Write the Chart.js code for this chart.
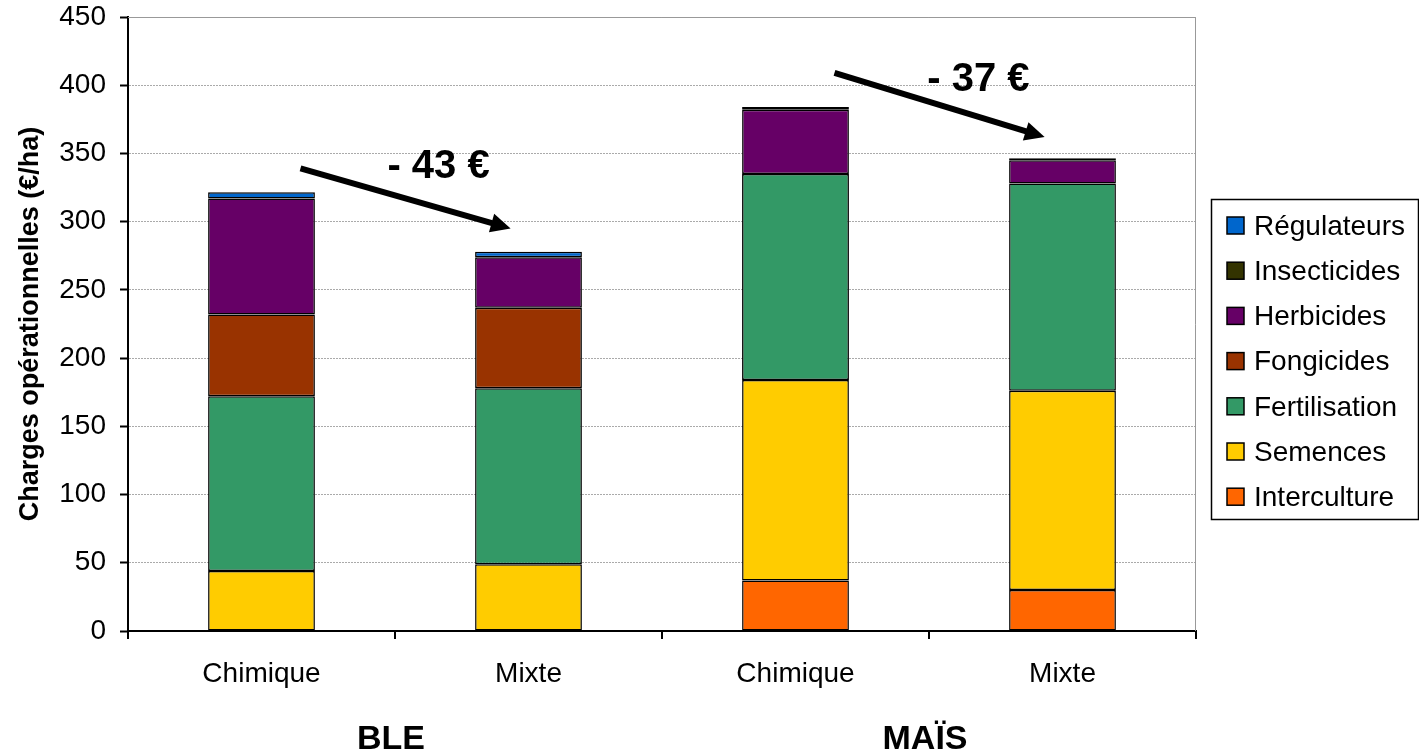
<!DOCTYPE html>
<html>
<head>
<meta charset="utf-8">
<script src="https://cdn.jsdelivr.net/npm/chart.js@4.4.1/dist/chart.umd.min.js"></script>
<style>
  body { margin: 0; background: #fff; }
  canvas { display: block; }
</style>
</head>
<body>
<canvas id="chart" width="1419" height="754"></canvas>
<script>
// categories
var bars = ['Chimique', 'Mixte', 'Chimique', 'Mixte'];
var groups = ['BLE', 'MAÏS'];

// series, from bottom of the stack to top
var interculture = [null, null, 37, 30];
var semences     = [44, 49, 147, 146];
var fertilisation= [128, 129, 151, 152];
var fongicides   = [60, 59, null, null];
var herbicides   = [85, 37, 47, 17];
var insecticides = [null, null, 2, 1.5];
var regulateurs  = [4.5, 4, null, null];

// arrows : [from bar, from value, to bar, to value, label, label x (bar index), label value]
var savings = [
	[0, 339, 1, 295, '- 43 €', 0.663, 340],
	[2, 409, 3, 362, '- 37 €', 2.685, 404]
];

var series = [
	{ label: 'Interculture', data: interculture, color: '#FF6600' },
	{ label: 'Semences', data: semences, color: '#FFCC00' },
	{ label: 'Fertilisation', data: fertilisation, color: '#339966' },
	{ label: 'Fongicides', data: fongicides, color: '#993300' },
	{ label: 'Herbicides', data: herbicides, color: '#660066' },
	{ label: 'Insecticides', data: insecticides, color: '#333300' },
	{ label: 'Régulateurs', data: regulateurs, color: '#0066CC' }
];

var font = 'Arial, "Liberation Sans", sans-serif';

var extras = {
	id: 'extras',
	afterDraw: function(chart) {
		var ctx = chart.ctx;
		var area = chart.chartArea;
		var x = chart.scales.x, y = chart.scales.y;
		ctx.save();

		// plot frame top / right
		ctx.strokeStyle = '#999';
		ctx.lineWidth = 1;
		ctx.beginPath();
		ctx.moveTo(area.left, area.top + 0.5);
		ctx.lineTo(area.right - 0.5, area.top + 0.5);
		ctx.lineTo(area.right - 0.5, area.bottom);
		ctx.stroke();

		// arrows
		var step = (x.getPixelForValue(1) - x.getPixelForValue(0));
		savings.forEach(function(s) {
			var x1 = x.getPixelForValue(s[0]) + step * 0.146;
			var y1 = y.getPixelForValue(s[1]);
			var x2 = x.getPixelForValue(s[2]) - step * 0.067;
			var y2 = y.getPixelForValue(s[3]);
			var ang = Math.atan2(y2 - y1, x2 - x1);
			var head = 22;
			ctx.strokeStyle = '#000';
			ctx.fillStyle = '#000';
			ctx.lineWidth = 6;
			ctx.beginPath();
			ctx.moveTo(x1, y1);
			ctx.lineTo(x2 - Math.cos(ang) * head * 0.8, y2 - Math.sin(ang) * head * 0.8);
			ctx.stroke();
			ctx.beginPath();
			ctx.moveTo(x2, y2);
			ctx.lineTo(x2 - head * Math.cos(ang - 0.45), y2 - head * Math.sin(ang - 0.45));
			ctx.lineTo(x2 - head * Math.cos(ang + 0.45), y2 - head * Math.sin(ang + 0.45));
			ctx.closePath();
			ctx.fill();
			ctx.font = 'bold 40px ' + font;
			ctx.textAlign = 'center';
			ctx.textBaseline = 'middle';
			ctx.fillText(s[4], x.getPixelForValue(s[5]), y.getPixelForValue(s[6]));
		});

		// group labels
		ctx.font = 'bold 34px ' + font;
		ctx.textAlign = 'center';
		ctx.textBaseline = 'middle';
		ctx.fillStyle = '#000';
		groups.forEach(function(g, i) {
			var cx = (x.getPixelForValue(i * 2) + x.getPixelForValue(i * 2 + 1)) / 2 - 4;
			ctx.fillText(g, cx, 740);
		});

		// legend
		var lx = 1211, ly = 199, lw = 207, lh = 320;
		ctx.strokeStyle = '#000';
		ctx.lineWidth = 1.5;
		ctx.strokeRect(lx + 0.5, ly + 0.5, lw, lh);
		ctx.font = '28px ' + font;
		ctx.textAlign = 'left';
		var items = series.slice().reverse();
		items.forEach(function(s, i) {
			var cy = ly + 27 + i * 45.2;
			ctx.fillStyle = s.color;
			ctx.fillRect(lx + 16, cy - 9, 17, 17);
			ctx.strokeStyle = '#000';
			ctx.lineWidth = 1.5;
			ctx.strokeRect(lx + 16, cy - 9, 17, 17);
			ctx.fillStyle = '#000';
			ctx.fillText(s.label, lx + 43, cy + 1);
		});
		ctx.restore();
	}
};

new Chart(document.getElementById('chart'), {
	type: 'bar',
	data: {
		labels: bars,
		datasets: series.map(function(s) {
			return {
				label: s.label,
				data: s.data,
				backgroundColor: s.color,
				borderColor: '#000',
				borderWidth: 1.5,
				borderSkipped: false,
				barPercentage: 0.4,
				categoryPercentage: 1
			};
		})
	},
	options: {
		responsive: false,
		animation: false,
		layout: { padding: { top: 17, right: 223, left: 0, bottom: 0 } },
		plugins: {
			legend: { display: false },
			tooltip: { enabled: false }
		},
		scales: {
			x: {
				stacked: true,
				offset: true,
				grid: { offset: true, drawOnChartArea: false, drawTicks: true, tickLength: 8, color: '#000', lineWidth: 2 },
				border: { color: '#000', width: 2 },
				ticks: { color: '#000', font: { family: font, size: 28 }, padding: 18 },
				afterFit: function(s) { s.height = 123; s.paddingLeft = 0; s.paddingRight = 0; }
			},
			y: {
				stacked: true,
				min: 0,
				max: 450,
				ticks: { stepSize: 50, color: '#000', font: { family: font, size: 28 }, padding: 14 },
				grid: { color: '#aaa', lineWidth: 1, tickLength: 8, tickColor: '#000', tickWidth: 2, drawTicks: true },
				border: { color: '#000', width: 2, dash: [2, 1] },
				title: { display: true, text: 'Charges opérationnelles (€/ha)', color: '#000', font: { family: font, size: 27, weight: 'bold' }, padding: { top: 14, bottom: 0 } },
				afterFit: function(s) { s.width = 128; s.paddingTop = 0; s.paddingBottom = 0; }
			}
		}
	},
	plugins: [extras]
});
</script>
</body>
</html>
